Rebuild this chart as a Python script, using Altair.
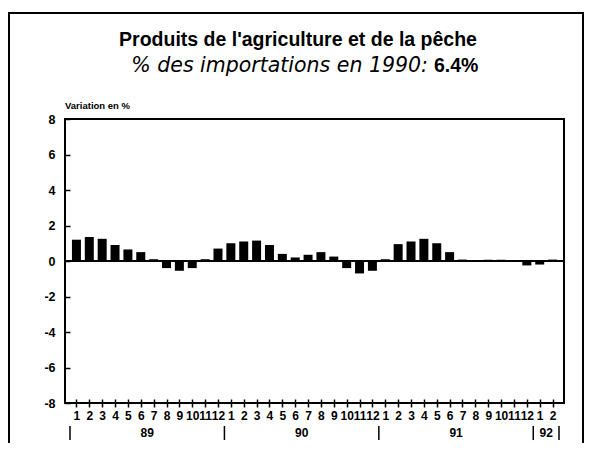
import altair as alt
import pandas as pd

# ---- data ----
months = list(range(1, 13)) * 3 + [1, 2]
years = ["89"] * 12 + ["90"] * 12 + ["91"] * 12 + ["92"] * 2
values = [1.2, 1.35, 1.25, 0.9, 0.65, 0.5, 0.1, -0.4, -0.55, -0.4, 0.1, 0.7,
          1.0, 1.1, 1.15, 0.9, 0.4, 0.2, 0.35, 0.5, 0.25, -0.4, -0.7, -0.55,
          0.1, 0.95, 1.1, 1.25, 1.0, 0.5, 0.08, 0.05, 0.07, 0.07, 0.03, -0.25,
          -0.2, 0.08]
y_ticks = [-8, -6, -4, -2, 0, 2, 4, 6, 8]
title_text = "Produits de l'agriculture et de la pêche"
subtitle_text = "% des importations en 1990:"
subtitle_value = "6.4%"
y_title = "Variation en %"

FONT = "Liberation Sans"
TFONT = "DejaVu Sans"
W, H = 499, 284

idx = list(range(1, len(values) + 1))
df = pd.DataFrame({"idx": idx, "month": months, "year": years, "value": values})

g = df.groupby("year", sort=False)["idx"].agg(["min", "max"]).reset_index()
g["mid"] = (g["min"] + g["max"]) / 2
year_df = g[["year", "mid"]]
seps = list(g["min"] - 0.5) + [g["max"].iloc[-1] + 0.5]
sep_df = pd.DataFrame({"pos": seps})

xscale = alt.Scale(domain=[0.5, len(values) + 0.5], nice=False, zero=False)
yscale = alt.Scale(domain=[-8, 8], nice=False)

xaxis = alt.Axis(values=idx, labelExpr="((datum.value - 1) % 12) + 1",
                 title=None, domain=False, offset=-4, tickSize=8,
                 tickColor="black", tickWidth=1.5, labelPadding=3,
                 labelFont=FONT, labelFontSize=12, labelFontWeight="bold",
                 labelColor="black", labelOverlap=False, grid=False)
yaxis = alt.Axis(values=y_ticks, labelExpr="'' + datum.value",
                 title=None, domain=False, offset=-5, tickSize=5,
                 tickColor="black", tickWidth=1.5, labelPadding=10,
                 labelFont=FONT, labelFontSize=12.5, labelFontWeight="bold",
                 labelColor="black", grid=False, labelOverlap=False)

bars = alt.Chart(df).mark_bar(color="black", size=9).encode(
    x=alt.X("idx:Q", scale=xscale, axis=xaxis),
    y=alt.Y("value:Q", scale=yscale, axis=yaxis),
)

zero = alt.Chart(df).mark_rule(color="black", strokeWidth=1.5).encode(
    y=alt.datum(0, scale=yscale, axis=yaxis)
)

year_text = alt.Chart(year_df).mark_text(
    font=FONT, fontSize=12, fontWeight="bold", baseline="middle", color="black"
).encode(x=alt.X("mid:Q", scale=xscale, axis=xaxis), y=alt.value(H + 30), text="year:N")

sep_rules = alt.Chart(sep_df).mark_rule(color="black", strokeWidth=1.5).encode(
    x=alt.X("pos:Q", scale=xscale, axis=xaxis), y=alt.value(H + 23), y2=alt.value(H + 37)
)

one = pd.DataFrame({"a": [0]})
frame = alt.Chart(one).mark_rect(fill=None, stroke="black", strokeWidth=2).encode(
    x=alt.value(-56), x2=alt.value(518), y=alt.value(-106), y2=alt.value(H + 80)
)
t1 = alt.Chart(one).mark_text(
    text=title_text, font=FONT, fontSize=19.5, fontWeight="bold", align="center",
    baseline="alphabetic", color="black"
).encode(x=alt.value(233), y=alt.value(-73))
t2 = alt.Chart(one).mark_text(
    text=subtitle_text, font=TFONT, fontSize=20.5, fontStyle="italic", align="right",
    baseline="alphabetic", color="black"
).encode(x=alt.value(363), y=alt.value(-47))
t3 = alt.Chart(one).mark_text(
    text=subtitle_value, font=FONT, fontSize=19.5, fontWeight="bold", align="left",
    baseline="alphabetic", color="black"
).encode(x=alt.value(369), y=alt.value(-47))
t4 = alt.Chart(one).mark_text(
    text=y_title, font=FONT, fontSize=9.5, fontWeight="bold", align="left",
    baseline="alphabetic", color="black"
).encode(x=alt.value(0), y=alt.value(-10))

chart = alt.layer(frame, zero, bars, year_text, sep_rules, t1, t2, t3, t4).properties(
    width=W, height=H,
    autosize=alt.AutoSizeParams(type="none"),
    padding={"left": 57, "top": 111, "right": 20, "bottom": 40},
    background="white",
).configure_view(stroke="black", strokeWidth=2)

chart.save("out.html", embed_options={"renderer": "svg", "actions": False})
